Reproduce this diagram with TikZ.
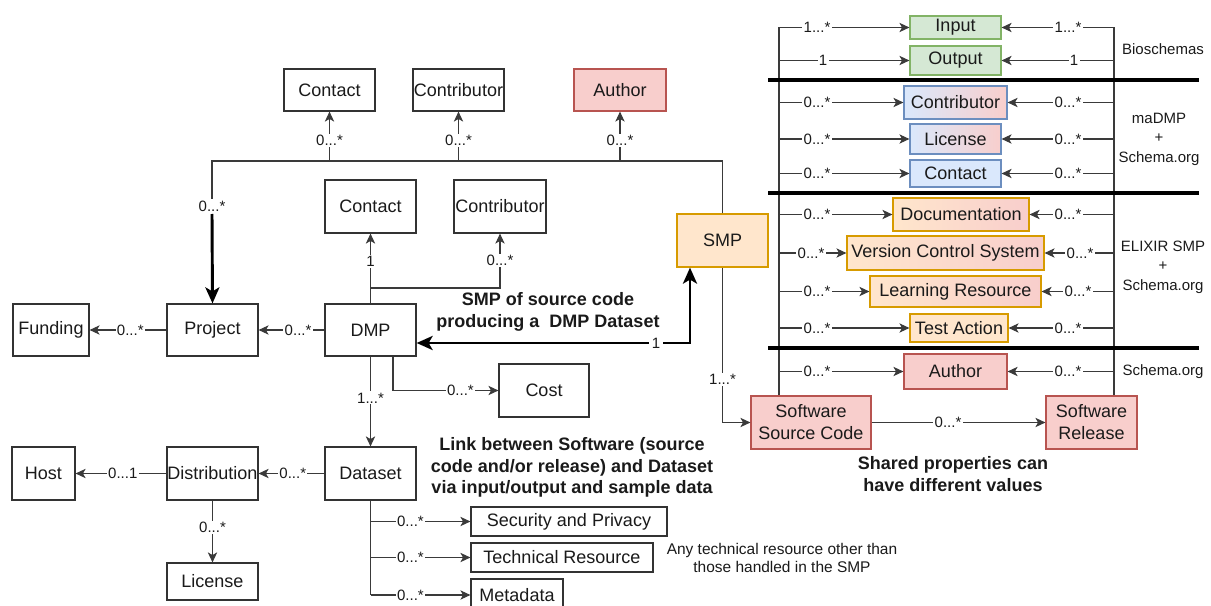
\documentclass[tikz,border=0pt]{standalone}
\usepackage{fontspec}
\setmainfont{Liberation Sans}
\usetikzlibrary{arrows.meta}
\definecolor{txt}{HTML}{1A1A1A}
\definecolor{boxc}{HTML}{333333}
\definecolor{linec}{HTML}{3A3A3A}
\definecolor{gfill}{HTML}{D5E8D4}
\definecolor{gline}{HTML}{82B366}
\definecolor{bfill}{HTML}{DAE8FC}
\definecolor{bline}{HTML}{6C8EBF}
\definecolor{ofill}{HTML}{FFE6CC}
\definecolor{oline}{HTML}{D79B00}
\definecolor{pfill}{HTML}{F8CECC}
\definecolor{pline}{HTML}{B85450}
\begin{document}
\begin{tikzpicture}[x=0.75pt,y=-0.75pt,
  box/.style={draw=boxc, line width=0.9pt, fill=white, inner sep=0pt, align=center,
    font=\fontsize{13.5}{16.5}\selectfont, text=txt},
  sz/.style 2 args={minimum width=#1*0.75pt, minimum height=#2*0.75pt},
  gbox/.style={box, fill=gfill, draw=gline},
  bbox/.style={box, fill=bfill, draw=bline},
  obox/.style={box, fill=ofill, draw=oline},
  pbox/.style={box, fill=pfill, draw=pline},
  bpbox/.style={box, draw=bline, left color=bfill, right color=pfill},
  opbox/.style={box, draw=oline, left color=ofill, right color=pfill},
  ln/.style={draw=linec, line width=0.8pt},
  ar/.style={ln, -{Stealth[length=7.5pt,width=7pt,inset=2pt]}},
  thk/.style={draw=black, line width=2.2pt},
  lab/.style={fill=white, inner sep=1pt, font=\fontsize{11.25}{13}\selectfont, text=txt},
  side/.style={align=center, font=\fontsize{11.25}{14.6}\selectfont, text=txt},
  note/.style={align=center, font=\fontsize{11.6}{14.2}\selectfont, text=txt},
  bold/.style={align=center, font=\fontsize{13.5}{16.2}\selectfont\bfseries, text=txt},
  sepline/.style={draw=black, line width=2.4pt}
]
\useasboundingbox (0,0) rectangle (1211,606);

% ---------------- left part: boxes ----------------
\node[box, sz={91}{42}] (contact1) at (329.5,90) {Contact};
\node[box, sz={91}{42}] (contrib1) at (458.5,90) {Contributor};
\node[pbox, sz={92}{42}] (author1) at (620,90) {Author};
\node[box, sz={91}{53}] (contact2) at (370.5,206.5) {Contact};
\node[box, sz={92}{53}] (contrib2) at (500,206.5) {Contributor};
\node[obox, sz={91}{53}] (smp) at (722.5,240.5) {SMP};
\node[box, sz={76}{52}] (funding) at (51,330) {Funding};
\node[box, sz={91}{52}] (project) at (212.5,330) {Project};
\node[box, sz={91}{52}] (dmp) at (370.5,330) {DMP};
\node[box, sz={90}{53}] (cost) at (544,390.5) {Cost};
\node[box, sz={63}{53}] (host) at (43.5,473.5) {Host};
\node[box, sz={91}{53}] (distribution) at (212.5,473.5) {Distribution};
\node[box, sz={91}{53}] (dataset) at (370.5,473.5) {Dataset};
\node[box, sz={91}{37}] (license) at (212.5,581.5) {License};
\node[box, sz={196}{29}] (security) at (569,521.5) {Security and Privacy};
\node[box, sz={182}{29}] (technical) at (562,557.5) {Technical Resource};
\node[box, sz={92}{32}] (metadata) at (517,595) {Metadata};

% ---------------- right part: boxes ----------------
\node[gbox, sz={91}{23}] (input) at (955.5,27.5) {Input};
\node[gbox, sz={91}{29}] (output) at (955.5,60.5) {Output};
\node[bpbox, sz={103}{33}] (contrib3) at (955.5,102.5) {Contributor};
\node[bpbox, sz={91}{30}] (license2) at (955.5,139) {License};
\node[bbox, sz={91}{27}] (contact3) at (955.5,173.5) {Contact};
\node[opbox, sz={136}{33}] (doc) at (961,214.5) {Documentation};
\node[opbox, sz={197}{34}] (vcs) at (945.5,253) {Version Control System};
\node[opbox, sz={171}{31}] (learn) at (955.5,291.5) {Learning Resource};
\node[obox, sz={98}{28}] (test) at (959,328) {Test Action};
\node[pbox, sz={103}{35}] (author2) at (955.5,371.5) {Author};
\node[pbox, sz={120}{53}] (ssc) at (811,422.5) {Software\\Source Code};
\node[pbox, sz={91}{53}] (sr) at (1091.5,422.5) {Software\\Release};

% ---------------- left part: connectors ----------------
\coordinate (busL) at (212,161);
\coordinate (pj) at (212,206);
\coordinate (pj2) at (212,214);
\draw[ln] (smp.north) |- (busL) -- (pj);
\node[lab] (pjlab) at (pj) {0...*};
\draw[thk, -{Stealth[length=12pt,width=10.5pt,inset=3pt]}] (pj2) -- (project.north);
\draw[ar] (contact1.south |- busL) -- node[lab, pos=0.42] {0...*} (contact1.south);
\draw[ar] (contrib1.south |- busL) -- node[lab, pos=0.42] {0...*} (contrib1.south);
\draw[ar] (author1.south |- busL) -- node[lab, pos=0.42] {0...*} (author1.south);

\draw[ar] (dmp.west) -- node[lab, pos=0.4] {0...*} (project.east);
\draw[ar] (project.west) -- node[lab, pos=0.47] {0...*} (funding.east);
\draw[ar] (dmp.north) -- node[lab, pos=0.6] {1} (contact2.south);
\coordinate (c288) at (500,288);
\draw[ar] (dmp.north) |- (c288) -- node[lab, pos=0.5] {0...*} (contrib2.south);

\coordinate (t1) at (690,343);
\draw[thk, {Stealth[length=12pt,width=10.5pt,inset=3pt]}-{Stealth[length=12pt,width=10.5pt,inset=3pt]}]
  (dmp.east |- t1) -- node[lab, pos=0.876, inner sep=2pt] {1} (t1) -- (t1 |- smp.south);
\node[bold] (smptext) at (548,312) {SMP of source code\\producing a \ DMP Dataset};

\coordinate (k1) at (393,390);
\draw[ar] (dmp.south -| k1) |- node[lab, pos=0.82] {0...*} (cost.west);
\draw[ar] (dmp.south) -- node[lab, pos=0.46] {1...*} (dataset.north);
\draw[ar] (dataset.west) -- node[lab, pos=0.48] {0...*} (distribution.east);
\draw[ar] (distribution.west) -- node[lab, pos=0.48] {0...1} (host.east);
\draw[ar] (distribution.south) -- node[lab, pos=0.44] {0...*} (license.north);
\draw[ln] (dataset.south) -- (dataset.south |- metadata.west);
\draw[ar] (dataset.south |- security.west) -- node[lab, pos=0.4] {0...*} (security.west);
\draw[ar] (dataset.south |- technical.west) -- node[lab, pos=0.4] {0...*} (technical.west);
\draw[ar] (dataset.south |- metadata.west) -- node[lab, pos=0.4] {0...*} (metadata.west);

\node[bold] (linktext) at (572,467.5) {Link between Software (source\\code and/or release) and Dataset\\via input/output and sample data};
\node[note] (notetext) at (782,558) {Any technical resource other than\\those handled in the SMP};
\node[bold] (sprop) at (953,474) {Shared properties can\\have different values};

\draw[ar] (smp.south) |- node[lab, pos=0.36] {1...*} (ssc.west);
\draw[ar] (ssc.east) -- node[lab, pos=0.44] {0...*} (sr.west);

% ---------------- right panel ----------------
\coordinate (lbar) at (779,0);
\coordinate (rbar) at (1114,0);
\draw[ar] (ssc.north -| lbar) -- (lbar |- input.west) -- node[lab, pos=0, xshift=28.5pt] {1...*} (input.west);
\draw[ar] (sr.north -| rbar) -- (rbar |- input.east) -- node[lab, pos=0, xshift=-34.5pt] {1...*} (input.east);

\draw[ar] (lbar |- output.west) -- node[lab, pos=0, xshift=33pt] {1} (output.west);
\draw[ar] (rbar |- output.east) -- node[lab, pos=0, xshift=-30pt] {1} (output.east);
\draw[ar] (lbar |- contrib3.west) -- node[lab, pos=0, xshift=28.5pt] {0...*} (contrib3.west);
\draw[ar] (rbar |- contrib3.east) -- node[lab, pos=0, xshift=-34.5pt] {0...*} (contrib3.east);
\draw[ar] (lbar |- license2.west) -- node[lab, pos=0, xshift=28.5pt] {0...*} (license2.west);
\draw[ar] (rbar |- license2.east) -- node[lab, pos=0, xshift=-34.5pt] {0...*} (license2.east);
\draw[ar] (lbar |- contact3.west) -- node[lab, pos=0, xshift=28.5pt] {0...*} (contact3.west);
\draw[ar] (rbar |- contact3.east) -- node[lab, pos=0, xshift=-34.5pt] {0...*} (contact3.east);
\draw[ar] (lbar |- doc.west) -- node[lab, pos=0, xshift=28.5pt] {0...*} (doc.west);
\draw[ar] (rbar |- doc.east) -- node[lab, pos=0, xshift=-34.5pt] {0...*} (doc.east);
\draw[ar] (lbar |- vcs.west) -- node[lab, pos=0, xshift=24pt] {0...*} (vcs.west);
\draw[ar] (rbar |- vcs.east) -- node[lab, pos=0, xshift=-25.5pt] {0...*} (vcs.east);
\draw[ar] (lbar |- learn.west) -- node[lab, pos=0, xshift=28.5pt] {0...*} (learn.west);
\draw[ar] (rbar |- learn.east) -- node[lab, pos=0, xshift=-27pt] {0...*} (learn.east);
\draw[ar] (lbar |- test.west) -- node[lab, pos=0, xshift=28.5pt] {0...*} (test.west);
\draw[ar] (rbar |- test.east) -- node[lab, pos=0, xshift=-34.5pt] {0...*} (test.east);
\draw[ar] (lbar |- author2.west) -- node[lab, pos=0, xshift=28.5pt] {0...*} (author2.west);
\draw[ar] (rbar |- author2.east) -- node[lab, pos=0, xshift=-34.5pt] {0...*} (author2.east);

\draw[sepline] (768,80) -- (1199,80);
\draw[sepline] (768,193) -- (1199,193);
\draw[sepline] (768,348) -- (1199,348);

\node[side] (bio) at (1163,49) {Bioschemas};
\node[side] (madmp) at (1159,139) {maDMP\\+\\Schema.org};
\node[side] (elixir) at (1163,267) {ELIXIR SMP\\+\\Schema.org};
\node[side] (schema) at (1163,372) {Schema.org};
\end{tikzpicture}
\end{document}
